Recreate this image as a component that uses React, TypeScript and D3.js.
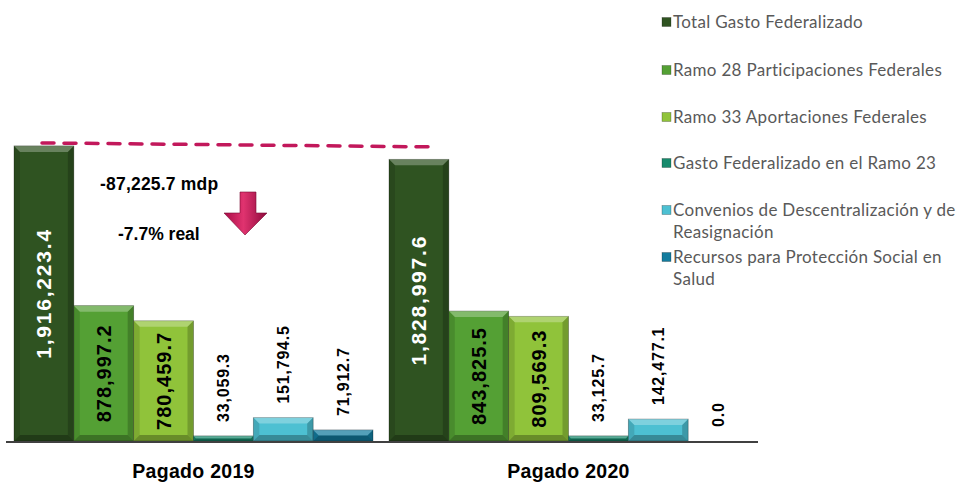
import React, { useRef, useEffect } from "react";
import * as d3 from "d3";

// datos (millones de pesos)
const periodos = ["Pagado 2019", "Pagado 2020"];
const conceptos = [
  "Total Gasto Federalizado",
  "Ramo 28 Participaciones Federales",
  "Ramo 33 Aportaciones Federales",
  "Gasto Federalizado en el Ramo 23",
  "Convenios de Descentralización y de Reasignación",
  "Recursos para Protección Social en Salud",
];
const pagado2019 = [1916223.4, 878997.2, 780459.7, 33059.3, 151794.5, 71912.7];
const pagado2020 = [1828997.6, 843825.5, 809569.3, 33125.7, 142477.1, 0.0];
const colores = ["#2f5321", "#54a034", "#90c33a", "#178a6c", "#4dc0d2", "#137c9e"];
// lineas de la leyenda (ya partidas como en la lamina)
const leyendaLineas = [
  ["Total Gasto Federalizado"],
  ["Ramo 28 Participaciones Federales"],
  ["Ramo 33 Aportaciones Federales"],
  ["Gasto Federalizado en el Ramo 23"],
  ["Convenios de Descentralización y de", "Reasignación"],
  ["Recursos para Protección Social en", "Salud"],
];
const diferencia = "-87,225.7 mdp";
const variacion = "-7.7% real";

export default function App() {
  const svgRef = useRef<SVGSVGElement>(null);

  useEffect(() => {
    const svg = d3.select(svgRef.current);
    svg.selectAll("*").remove();

    const baseY = 441;

    const x0 = d3.scaleBand().domain(periodos).range([14, 748]).paddingInner(0.0427);
    const x1 = d3.scaleBand().domain(conceptos).range([0, x0.bandwidth()]);
    const y = d3.scaleLinear().domain([0, 2000000]).range([baseY, 133]);

    const valores = [pagado2019, pagado2020];
    const fmt = d3.format(",.1f");

    const defs = svg.append("defs");
    const grad = defs.append("linearGradient").attr("id", "flecha").attr("x1", 0).attr("x2", 1);
    grad.append("stop").attr("offset", "0%").attr("stop-color", "#a80c47");
    grad.append("stop").attr("offset", "45%").attr("stop-color", "#e0336f");
    grad.append("stop").attr("offset", "100%").attr("stop-color", "#8e0a3c");

    // linea punteada de referencia
    const yTop = y(pagado2019[0]);
    svg.append("line")
      .attr("x1", x0(periodos[0])! + 28).attr("y1", yTop - 3)
      .attr("x2", x0(periodos[1])! + 44).attr("y2", yTop + 1)
      .attr("stroke", "#c2185b").attr("stroke-width", 3.5)
      .attr("stroke-dasharray", "12,10").attr("stroke-linecap", "round");

    periodos.forEach((p, gi) => {
      const g = svg.append("g").attr("transform", `translate(${x0(p)},0)`);
      conceptos.forEach((c, i) => {
        const v = valores[gi][i];
        const bx = x1(c)!, bw = x1.bandwidth();
        const by = y(v), bh = baseY - by;
        if (bh > 0.5) {
          const b = Math.min(6, bh / 2);
          g.append("rect").attr("x", bx).attr("y", by).attr("width", bw).attr("height", bh)
            .attr("fill", colores[i]).attr("stroke", "rgba(0,0,0,0.35)").attr("stroke-width", 0.8);
          g.append("polygon")
            .attr("points", `${bx},${by} ${bx + bw},${by} ${bx + bw - b},${by + b} ${bx + b},${by + b}`)
            .attr("fill", "rgba(255,255,255,0.28)");
          g.append("polygon")
            .attr("points", `${bx},${by} ${bx + b},${by + b} ${bx + b},${by + bh - b} ${bx},${by + bh}`)
            .attr("fill", "rgba(0,0,0,0.12)");
          g.append("polygon")
            .attr("points", `${bx + bw},${by} ${bx + bw - b},${by + b} ${bx + bw - b},${by + bh - b} ${bx + bw},${by + bh}`)
            .attr("fill", "rgba(0,0,0,0.2)");
          g.append("polygon")
            .attr("points", `${bx},${by + bh} ${bx + b},${by + bh - b} ${bx + bw - b},${by + bh - b} ${bx + bw},${by + bh}`)
            .attr("fill", "rgba(0,0,0,0.28)");
        }
        const cx = bx + bw / 2;
        if (bh > 100) {
          const blanco = i === 0;
          const cy = by + bh / 2;
          g.append("text")
            .attr("transform", `translate(${cx},${cy}) rotate(-90)`)
            .attr("text-anchor", "middle").attr("dy", "0.36em")
            .attr("font-family", "'Liberation Sans', Arial, sans-serif").attr("font-weight", "bold")
            .attr("font-size", blanco ? 21 : 20).attr("letter-spacing", blanco ? 1.8 : 1)
            .attr("fill", blanco ? "#ffffff" : "#000000")
            .text(fmt(v));
        } else {
          g.append("text")
            .attr("transform", `translate(${cx},${by - 14}) rotate(-90)`)
            .attr("text-anchor", "start").attr("dy", "0.36em")
            .attr("font-family", "'Liberation Sans', Arial, sans-serif").attr("font-weight", "bold")
            .attr("font-size", 16).attr("letter-spacing", 0.8)
            .attr("fill", "#000000")
            .text(fmt(v));
        }
      });
      svg.append("text")
        .attr("x", x0(p)! + x0.bandwidth() / 2).attr("y", 478)
        .attr("text-anchor", "middle")
        .attr("font-family", "'Liberation Sans', Arial, sans-serif").attr("font-weight", "bold")
        .attr("font-size", 19.5).attr("letter-spacing", 0.3).attr("fill", "#000")
        .text(p);
    });

    // eje
    svg.append("line").attr("x1", 6).attr("x2", 758).attr("y1", baseY + 1).attr("y2", baseY + 1)
      .attr("stroke", "#404040").attr("stroke-width", 2);

    // anotaciones
    svg.append("text").attr("x", 100).attr("y", 190)
      .attr("font-family", "'Liberation Sans', Arial, sans-serif").attr("font-weight", "bold")
      .attr("font-size", 17.5).attr("letter-spacing", 0.2).attr("fill", "#000").text(diferencia);
    svg.append("text").attr("x", 118).attr("y", 240)
      .attr("font-family", "'Liberation Sans', Arial, sans-serif").attr("font-weight", "bold")
      .attr("font-size", 17.5).attr("fill", "#000").text(variacion);
    svg.append("polygon")
      .attr("points", "240,192 256,192 256,213 267,213 245,235 224,213 240,213")
      .attr("fill", "url(#flecha)").attr("stroke", "#7a0a34").attr("stroke-width", 0.6);

    // leyenda
    const leyY = [22, 70, 117, 163, 210, 257];
    leyendaLineas.forEach((lineas, i) => {
      svg.append("rect").attr("x", 662).attr("y", leyY[i] - 4.5).attr("width", 9).attr("height", 9)
        .attr("fill", colores[i]).attr("stroke", "rgba(0,0,0,0.4)").attr("stroke-width", 0.6);
      lineas.forEach((l, k) => {
        svg.append("text").attr("x", 673).attr("y", leyY[i] + k * 22).attr("dy", "0.35em")
          .attr("font-family", "Lato, sans-serif").attr("font-size", 17).attr("letter-spacing", 0.3)
          .attr("fill", "#595959")
          .text(l);
      });
    });
  }, []);

  return (
    <div style={{ position: "absolute", left: 0, top: 0 }}>
      <svg ref={svgRef} width={959} height={484} style={{ display: "block", background: "#fff" }} />
    </div>
  );
}
